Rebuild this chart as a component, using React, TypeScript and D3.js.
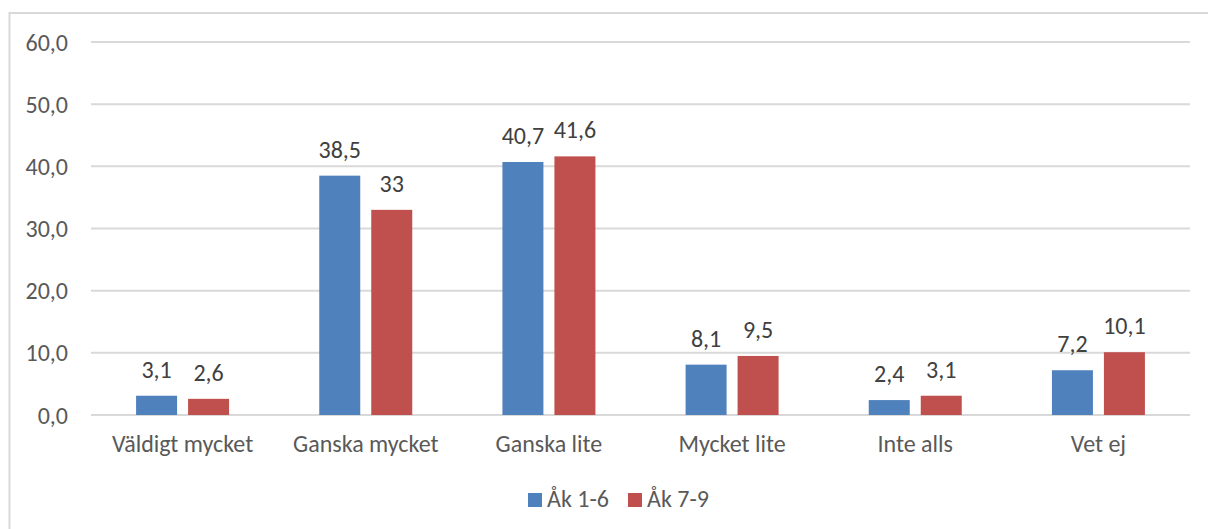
import React from "react";
import * as d3 from "d3";

const categories = ["Väldigt mycket", "Ganska mycket", "Ganska lite", "Mycket lite", "Inte alls", "Vet ej"];
const seriesNames = ["Åk 1-6", "Åk 7-9"];
const seriesA = [3.1, 38.5, 40.7, 8.1, 2.4, 7.2];
const seriesB = [2.6, 33, 41.6, 9.5, 3.1, 10.1];
const labelsA = ["3,1", "38,5", "40,7", "8,1", "2,4", "7,2"];
const labelsB = ["2,6", "33", "41,6", "9,5", "3,1", "10,1"];
const yTicks = [0, 10, 20, 30, 40, 50, 60];
const colors = ["#4F81BD", "#C0504D"];

const W = 1208;
const H = 529;
const FONT = "Calibri, Carlito, Lato, 'Open Sans', sans-serif";
const FS = 24;

export default function App() {
  const x = d3.scaleBand<string>().domain(categories).range([91, 1190]).paddingInner(0).paddingOuter(0);
  const xi = d3.scaleBand<string>().domain(seriesNames).range([0, x.bandwidth()]).paddingInner(0.2115).paddingOuter(0.867);
  const y = d3.scaleLinear().domain([0, 60]).range([415, 42]);
  const fmt = (v: number) => v.toFixed(1).replace(".", ",");
  const series = [seriesA, seriesB];
  const labels = [labelsA, labelsB];

  return (
    <svg width={W} height={H} style={{ position: "absolute", left: 0, top: 0, background: "#fff" }} fontFamily={FONT}>
      <rect x={0} y={0} width={W} height={H} fill="#fff" />
      <rect x={9.5} y={13} width={1200} height={540} fill="none" stroke="#D9D9D9" strokeWidth={2} />
      {yTicks.map((t) => (
        <g key={t}>
          <line x1={91} x2={1190} y1={y(t)} y2={y(t)} stroke="#D9D9D9" strokeWidth={2} />
          <text x={68} y={y(t)} dy="0.36em" textAnchor="end" fontSize={FS} fill="#595959">
            {fmt(t)}
          </text>
        </g>
      ))}
      {categories.map((c, ci) => (
        <g key={c}>
          {seriesNames.map((s, si) => {
            const v = series[si][ci];
            const bx = (x(c) as number) + (xi(s) as number);
            return (
              <g key={s}>
                <rect x={bx} y={y(v)} width={xi.bandwidth()} height={y(0) - y(v)} fill={colors[si]} />
                <text x={bx + xi.bandwidth() / 2} y={y(v) - 18} textAnchor="middle" fontSize={FS} fill="#404040">
                  {labels[si][ci]}
                </text>
              </g>
            );
          })}
          <text x={(x(c) as number) + x.bandwidth() / 2} y={452} textAnchor="middle" fontSize={FS} fill="#595959">
            {c}
          </text>
        </g>
      ))}
      {seriesNames.map((s, si) => {
        const lx = [528, 628][si];
        return (
          <g key={s}>
            <rect x={lx} y={493} width={14} height={14} fill={colors[si]} />
            <text x={lx + 19} y={507} fontSize={FS} fill="#595959">
              {s}
            </text>
          </g>
        );
      })}
    </svg>
  );
}
